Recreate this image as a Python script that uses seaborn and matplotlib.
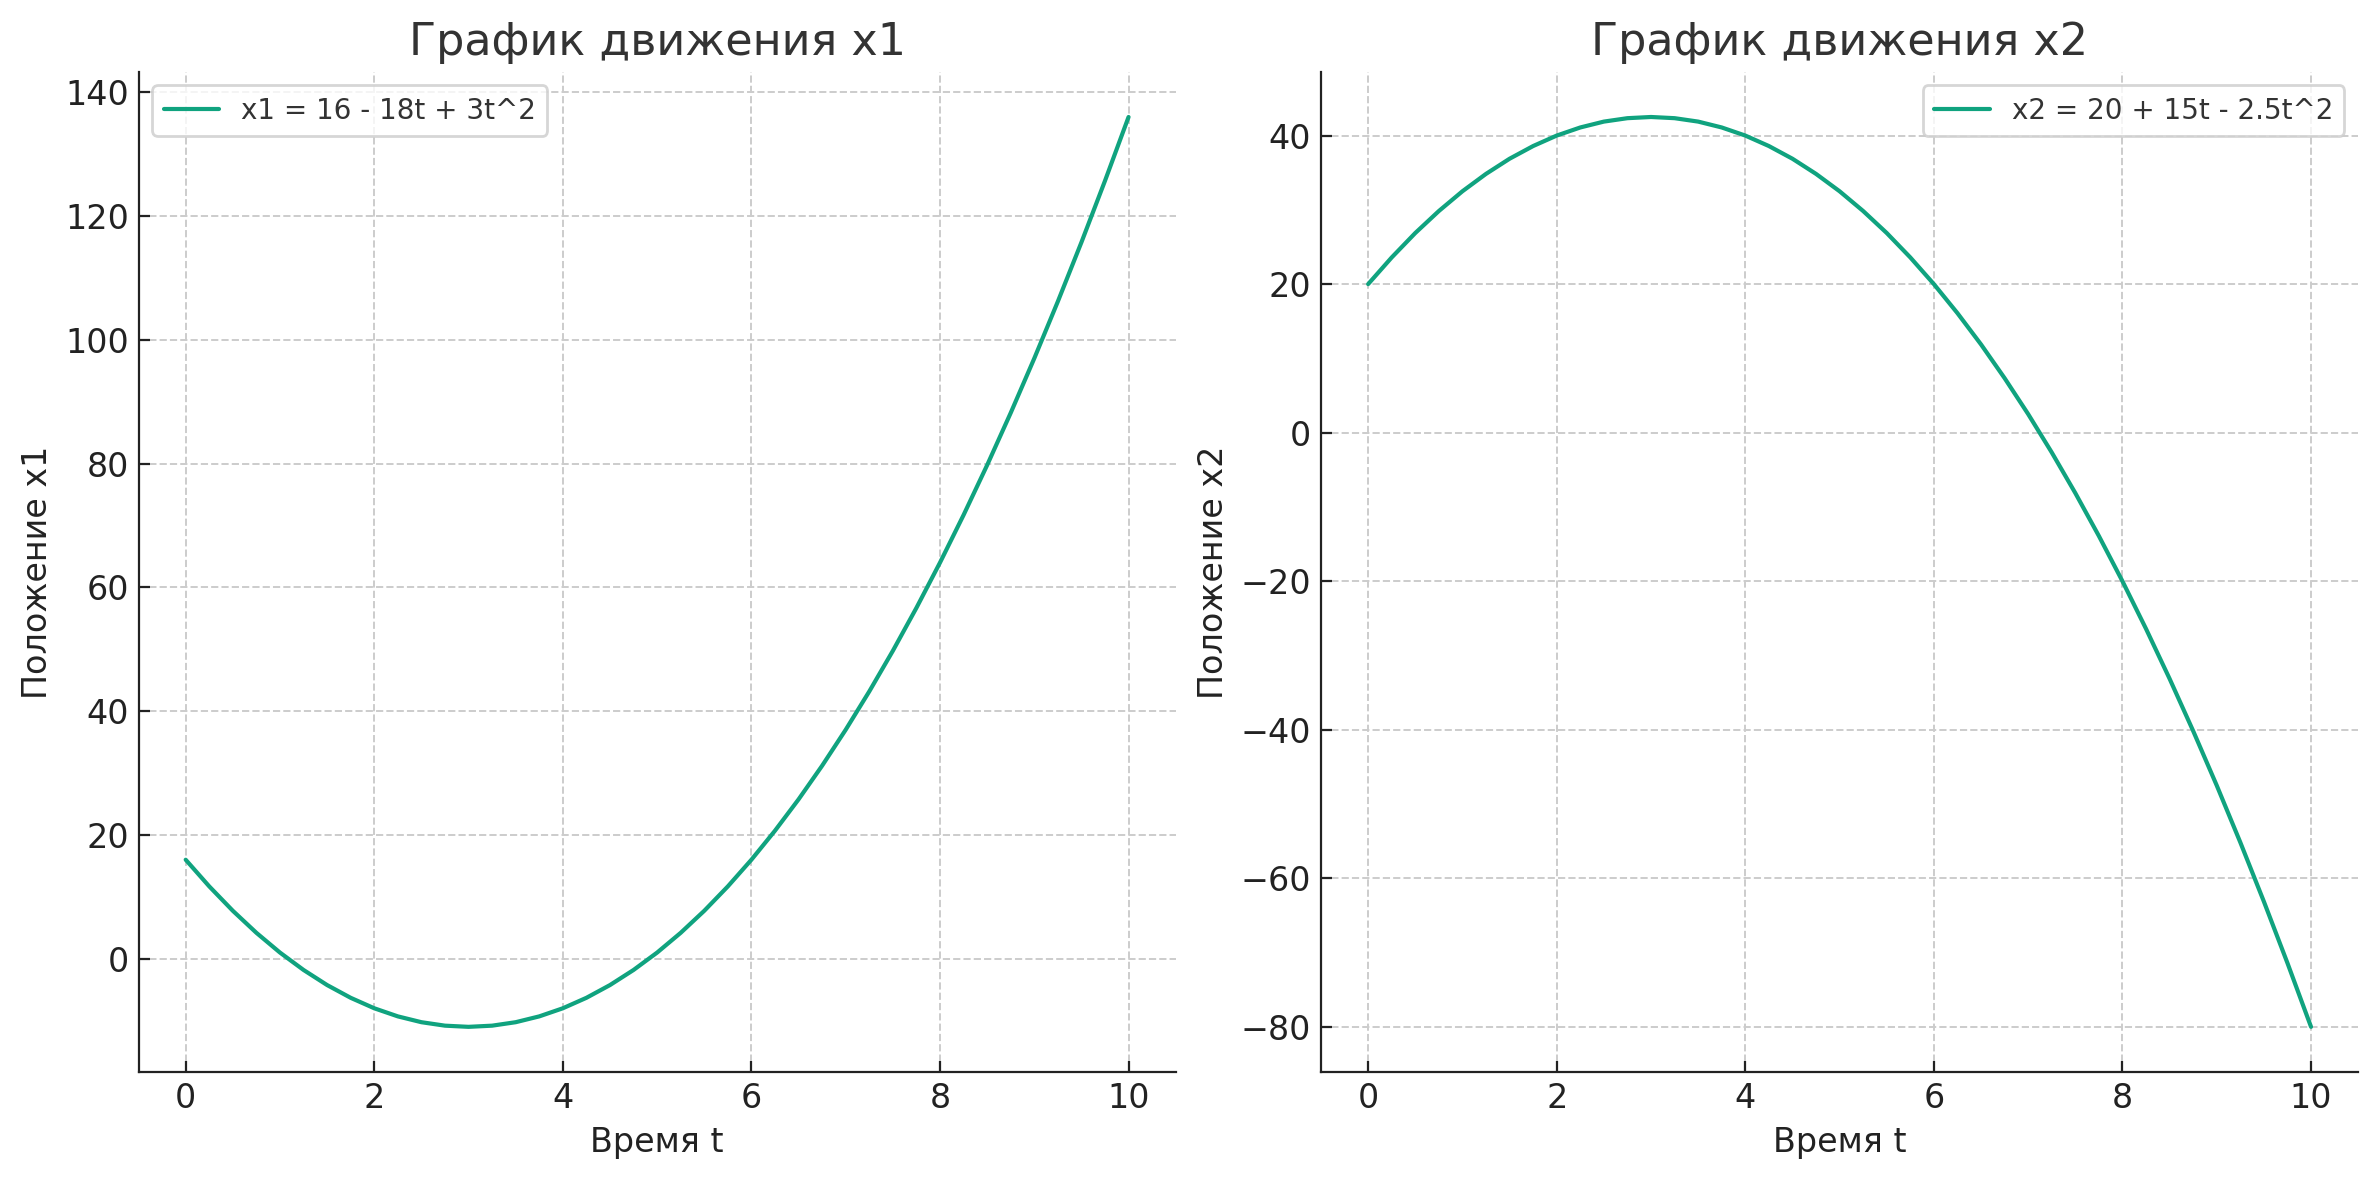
import matplotlib
matplotlib.use("Agg")
import matplotlib.pyplot as plt
import seaborn as sns
import pandas as pd

# values, every quarter second
t = [0, 0.25, 0.5, 0.75, 1, 1.25, 1.5, 1.75, 2, 2.25, 2.5, 2.75, 3, 3.25, 3.5, 3.75,
     4, 4.25, 4.5, 4.75, 5, 5.25, 5.5, 5.75, 6, 6.25, 6.5, 6.75, 7, 7.25, 7.5, 7.75,
     8, 8.25, 8.5, 8.75, 9, 9.25, 9.5, 9.75, 10]
x1 = [16, 11.69, 7.75, 4.19, 1, -1.81, -4.25, -6.31, -8, -9.31, -10.25, -10.81,
      -11, -10.81, -10.25, -9.31, -8, -6.31, -4.25, -1.81, 1, 4.19, 7.75, 11.69,
      16, 20.69, 25.75, 31.19, 37, 43.19, 49.75, 56.69, 64, 71.69, 79.75, 88.19,
      97, 106.19, 115.75, 125.69, 136]
x2 = [20, 23.59, 26.88, 29.84, 32.5, 34.84, 36.88, 38.59, 40, 41.09, 41.88, 42.34,
      42.5, 42.34, 41.88, 41.09, 40, 38.59, 36.88, 34.84, 32.5, 29.84, 26.88, 23.59,
      20, 16.09, 11.88, 7.34, 2.5, -2.66, -8.13, -13.91, -20, -26.41, -33.13, -40.16,
      -47.5, -55.16, -63.13, -71.41, -80]

labels = ["x1 = 16 - 18t + 3t^2", "x2 = 20 + 15t - 2.5t^2"]
titles = ["График движения x1", "График движения x2"]
ylabels = ["Положение x1", "Положение x2"]
xlabel = "Время t"

sns.set_style("ticks")
plt.rcParams['font.family'] = ['DejaVu Sans']
plt.rcParams['xtick.direction'] = 'in'
plt.rcParams['ytick.direction'] = 'in'

df = pd.DataFrame({"t": t, "x1": x1, "x2": x2})
color = "#10a37f"

fig, axes = plt.subplots(1, 2, figsize=(11.895, 5.9), dpi=200)

for ax, col, lab, title, ylab in zip(axes, ["x1", "x2"], labels, titles, ylabels):
    sns.lineplot(data=df, x="t", y=col, ax=ax, color=color, linewidth=1.5, label=lab)
    ax.set_title(title, fontsize=16, color="#333333")
    ax.set_xlabel(xlabel, fontsize=12, color="#222222")
    ax.set_ylabel(ylab, fontsize=12, color="#222222")
    ax.tick_params(labelsize=12, colors="#222222", length=4)
    ax.grid(True, linestyle="--", color="#cccccc", linewidth=0.7)
    ax.set_xticks([0, 2, 4, 6, 8, 10])
    sns.despine(ax=ax)
    ax.spines["left"].set_color("#222222")
    ax.spines["bottom"].set_color("#222222")

axes[0].legend(loc="upper left", fontsize=10, labelcolor="#333333")
axes[1].legend(loc="upper right", fontsize=10, labelcolor="#333333")

plt.tight_layout(pad=0.75)
plt.savefig("out.png", dpi=200)
